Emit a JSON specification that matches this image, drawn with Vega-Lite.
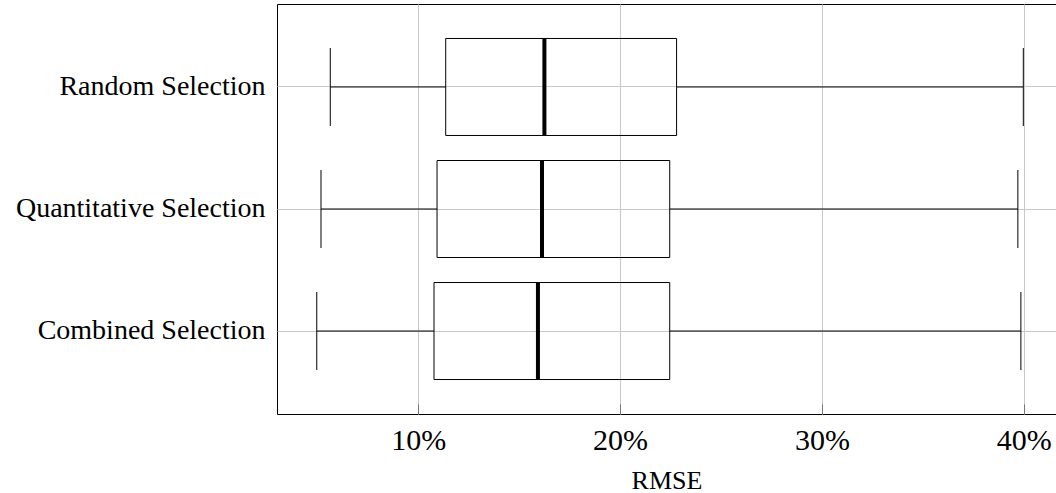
{
  "$schema": "https://vega.github.io/schema/vega-lite/v6.json",
  "autosize": {"type": "none"},
  "padding": {"left": 277, "top": 4, "right": 0, "bottom": 79},
  "width": 779,
  "height": 410,
  "background": "white",
  "config": {
    "font": "Liberation Serif",
    "view": {"stroke": "black", "strokeWidth": 1},
    "axis": {
      "domain": false,
      "ticks": false,
      "grid": true,
      "gridColor": "#c8c8c8",
      "gridWidth": 1,
      "labelColor": "black",
      "titleColor": "black",
      "labelFont": "Liberation Serif",
      "titleFont": "Liberation Serif",
      "titleFontWeight": "normal",
      "labelLimit": 0
    }
  },
  "data": {
    "values": [
      {"method": "Random Selection", "min": 5.64, "q1": 11.36, "median": 16.25, "q3": 22.80, "max": 39.98},
      {"method": "Quantitative Selection", "min": 5.18, "q1": 10.93, "median": 16.13, "q3": 22.46, "max": 39.71},
      {"method": "Combined Selection", "min": 4.97, "q1": 10.78, "median": 15.93, "q3": 22.46, "max": 39.86}
    ]
  },
  "encoding": {
    "y": {
      "field": "method",
      "type": "nominal",
      "sort": ["Random Selection", "Quantitative Selection", "Combined Selection"],
      "scale": {"paddingInner": 0, "paddingOuter": 0.18},
      "axis": {"title": null, "labelFontSize": 28, "labelPadding": 12}
    }
  },
  "layer": [
    {
      "mark": {"type": "rule", "color": "black", "strokeWidth": 1},
      "encoding": {
        "x": {
          "field": "min",
          "type": "quantitative",
          "scale": {"domain": [3, 41.6], "nice": false, "zero": false},
          "axis": {
            "values": [10, 20, 30, 40],
            "labelExpr": "datum.value + '%'",
            "labelFontSize": 30,
            "labelPadding": 21,
            "ticks": true,
            "tickSize": -10,
            "tickColor": "#777777",
            "title": "RMSE",
            "titleFontSize": 26,
            "titlePadding": 12
          }
        },
        "x2": {"field": "q1"}
      }
    },
    {
      "mark": {"type": "rule", "color": "black", "strokeWidth": 1},
      "encoding": {
        "x": {"field": "q3", "type": "quantitative"},
        "x2": {"field": "max"}
      }
    },
    {
      "mark": {"type": "bar", "size": 97, "fill": null, "fillOpacity": 0, "stroke": "black", "strokeWidth": 1},
      "encoding": {
        "x": {"field": "q1", "type": "quantitative"},
        "x2": {"field": "q3"}
      }
    },
    {
      "mark": {"type": "tick", "orient": "vertical", "size": 78, "thickness": 1, "color": "black", "opacity": 1},
      "encoding": {"x": {"field": "min", "type": "quantitative"}}
    },
    {
      "mark": {"type": "tick", "orient": "vertical", "size": 78, "thickness": 1, "color": "black", "opacity": 1},
      "encoding": {"x": {"field": "max", "type": "quantitative"}}
    },
    {
      "mark": {"type": "tick", "orient": "vertical", "size": 97, "thickness": 4, "color": "black", "opacity": 1},
      "encoding": {"x": {"field": "median", "type": "quantitative"}}
    }
  ]
}
